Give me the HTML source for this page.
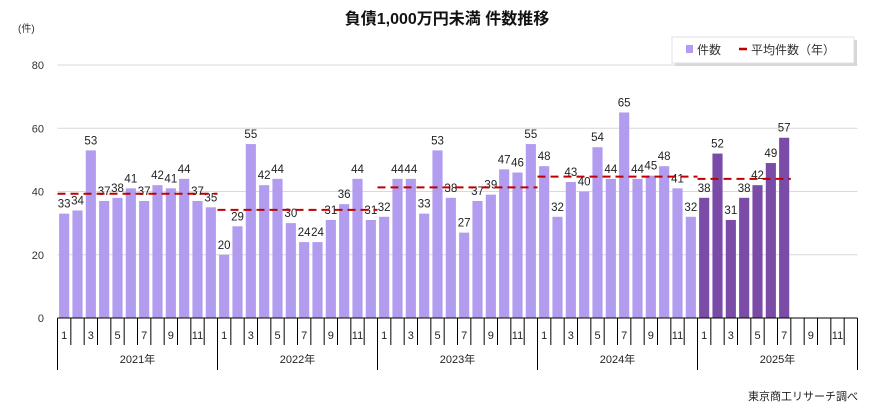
<!DOCTYPE html>
<html><head><meta charset="utf-8"><style>
body{margin:0;background:#fff;font-family:"Liberation Sans","Noto Sans CJK JP",sans-serif;}
svg text{font-family:"Liberation Sans","Noto Sans CJK JP",sans-serif;}
</style></head><body>
<svg id="c" width="895" height="413">
<text x="447" y="24" text-anchor="middle" font-size="16" font-weight="bold" fill="#111">負債1,000万円未満  件数推移</text>
<text x="18" y="32" font-size="10" fill="#333">(件)</text>
<g>
<rect x="675" y="40" width="182" height="26" fill="#bbb" opacity="0.6"/>
<rect x="672" y="37" width="182" height="26" fill="#fff" stroke="#e0e0e0"/>
<rect x="686" y="45" width="7" height="8" fill="#b19cf0"/>
<text x="697" y="54" font-size="12" fill="#333">件数</text>
<line x1="739" y1="49" x2="747" y2="49" stroke="#c00000" stroke-width="2.5"/>
<text x="751" y="54" font-size="12" fill="#333">平均件数（年）</text>
</g>
<g id="grid"></g><g id="bars"></g><g id="avg"></g><g id="xaxis"></g>
<text x="858" y="400" text-anchor="end" font-size="11" fill="#222">東京商工リサーチ調べ</text>
</svg>
<script>
const years=["2021年","2022年","2023年","2024年","2025年"];
const counts=[33,34,53,37,38,41,37,42,41,44,37,35,
20,29,55,42,44,30,24,24,31,36,44,31,
32,44,44,33,53,38,27,37,39,47,46,55,
48,32,43,40,54,44,65,44,45,48,41,32,
38,52,31,38,42,49,57];
const yearAvg=[39.3,34.2,41.3,44.7,44.0];
const yTicks=[0,20,40,60,80];
const monthLabels=["1","3","5","7","9","11"];
const NS="http://www.w3.org/2000/svg";
const x0=57.5,x1=857.5,y0=318,y80=65,nMonths=60;
const mw=(x1-x0)/nMonths;
const X=i=>x0+i*mw;
const Y=v=>y0-(v/80)*(y0-y80);
function mk(t,a,p){const e=document.createElementNS(NS,t);for(const k in a)e.setAttribute(k,a[k]);p.appendChild(e);return e;}
const grid=document.getElementById('grid'),bars=document.getElementById('bars'),avg=document.getElementById('avg'),xa=document.getElementById('xaxis');
yTicks.forEach(v=>{
 if(v>0){const l=mk('line',{x1:x0,x2:x1,y1:Y(v),y2:Y(v),stroke:'#d9d9d9'},grid);
 
 }
 const t=mk('text',{x:44,y:Y(v)+4,'text-anchor':'end','font-size':11,fill:'#333'},grid);t.textContent=v;
 
 
});
counts.forEach((v,i)=>{
 const dark=i>=48;
 const r=mk('rect',{x:X(i)+1.6,y:Y(v),width:mw-3.2,height:y0-Y(v),fill:dark?'#7b4ba8':'#b19cf0'},bars);
 
 
 const t=mk('text',{x:X(i)+mw/2,y:Y(v)-6,'text-anchor':'middle','font-size':11.5,fill:'#222'},bars);t.textContent=v;
 
 
});
yearAvg.forEach((a,k)=>{
 const n=Math.min(12,counts.length-k*12);
 const l=mk('line',{x1:X(k*12),x2:X(k*12+n),y1:Y(a),y2:Y(a),stroke:'#c00000','stroke-width':2,'stroke-dasharray':'8,5'},avg);
 
 
});
const ax=mk('line',{x1:x0,x2:x1,y1:y0,y2:y0,stroke:'#000'},xa);


for(let i=0;i<=nMonths;i++){
 const yr=i%12===0;
 const l=mk('line',{x1:X(i),x2:X(i),y1:y0,y2:yr?370:345,stroke:'#000'},xa);
 
 
}
for(let k=0;k<years.length;k++){
 monthLabels.forEach((m,j)=>{
  const i=k*12+j*2;
  const t=mk('text',{x:X(i)+mw/2,y:339,'text-anchor':'middle','font-size':11,fill:'#222'},xa);t.textContent=m;
  
  
 });
 const t=mk('text',{x:X(k*12+6),y:363,'text-anchor':'middle','font-size':11,fill:'#222'},xa);t.textContent=years[k];
 
 
}
</script>
</body></html>
